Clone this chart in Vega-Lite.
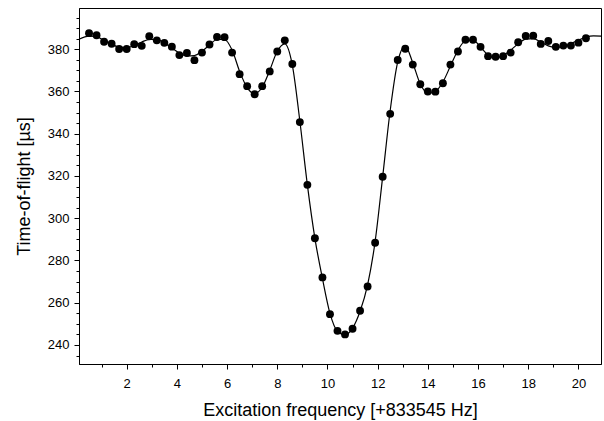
{
  "$schema": "https://vega.github.io/schema/vega-lite/v6.json",
  "width": 522,
  "height": 356,
  "autosize": {"type": "none"},
  "padding": {"left": 79, "top": 8, "right": 3, "bottom": 57},
  "background": "white",
  "config": {
    "view": {"stroke": "#000", "strokeWidth": 1},
    "font": "Liberation Sans",
    "axis": {
      "grid": false,
      "domainColor": "#000",
      "tickColor": "#000",
      "labelColor": "#000",
      "titleColor": "#000",
      "labelFont": "Liberation Sans",
      "titleFont": "Liberation Sans",
      "labelFontSize": 13,
      "titleFontSize": 18,
      "titleFontWeight": "normal",
      "tickWidth": 1,
      "domainWidth": 1
    }
  },
  "datasets": {
    "points": [
      {"x": 0.5, "y": 387.6}, {"x": 0.8, "y": 386.6}, {"x": 1.1, "y": 383.5}, {"x": 1.4, "y": 382.6},
      {"x": 1.7, "y": 380.1}, {"x": 2.0, "y": 380.1}, {"x": 2.3, "y": 382.4}, {"x": 2.6, "y": 381.6},
      {"x": 2.9, "y": 386.1}, {"x": 3.2, "y": 384.2}, {"x": 3.5, "y": 383.0}, {"x": 3.8, "y": 381.2},
      {"x": 4.1, "y": 377.2}, {"x": 4.4, "y": 378.2}, {"x": 4.7, "y": 374.8}, {"x": 5.0, "y": 378.4},
      {"x": 5.3, "y": 382.2}, {"x": 5.6, "y": 385.8}, {"x": 5.9, "y": 385.7}, {"x": 6.2, "y": 378.4},
      {"x": 6.5, "y": 368.2}, {"x": 6.8, "y": 362.5}, {"x": 7.1, "y": 358.7}, {"x": 7.4, "y": 362.5},
      {"x": 7.7, "y": 369.5}, {"x": 8.0, "y": 378.9}, {"x": 8.3, "y": 384.2}, {"x": 8.6, "y": 373.0},
      {"x": 8.9, "y": 345.5}, {"x": 9.2, "y": 315.8}, {"x": 9.5, "y": 290.5}, {"x": 9.8, "y": 272.0},
      {"x": 10.1, "y": 254.6}, {"x": 10.4, "y": 246.7}, {"x": 10.7, "y": 245.0}, {"x": 11.0, "y": 247.7},
      {"x": 11.3, "y": 256.2}, {"x": 11.6, "y": 267.7}, {"x": 11.9, "y": 288.4}, {"x": 12.2, "y": 319.6},
      {"x": 12.5, "y": 349.4}, {"x": 12.8, "y": 374.9}, {"x": 13.1, "y": 380.2}, {"x": 13.4, "y": 372.7},
      {"x": 13.7, "y": 363.4}, {"x": 14.0, "y": 360.0}, {"x": 14.3, "y": 359.9}, {"x": 14.6, "y": 363.9},
      {"x": 14.9, "y": 372.7}, {"x": 15.2, "y": 378.9}, {"x": 15.5, "y": 384.5}, {"x": 15.8, "y": 384.5},
      {"x": 16.1, "y": 381.1}, {"x": 16.4, "y": 376.7}, {"x": 16.7, "y": 376.4}, {"x": 17.0, "y": 376.7},
      {"x": 17.3, "y": 378.4}, {"x": 17.6, "y": 383.3}, {"x": 17.9, "y": 386.3}, {"x": 18.2, "y": 386.4},
      {"x": 18.5, "y": 382.5}, {"x": 18.8, "y": 383.9}, {"x": 19.1, "y": 381.1}, {"x": 19.4, "y": 381.7},
      {"x": 19.7, "y": 381.7}, {"x": 20.0, "y": 383.1}, {"x": 20.3, "y": 385.2}
    ],
    "fit": [
      {"x": 0.1, "y": 384.7}, {"x": 0.5, "y": 386.2}, {"x": 0.8, "y": 386.0}, {"x": 1.1, "y": 384.0}, {"x": 1.4, "y": 382.3},
      {"x": 1.7, "y": 381.0}, {"x": 2.0, "y": 380.8}, {"x": 2.3, "y": 381.8}, {"x": 2.6, "y": 383.4},
      {"x": 2.9, "y": 384.6}, {"x": 3.2, "y": 384.6}, {"x": 3.5, "y": 383.0}, {"x": 3.8, "y": 380.6},
      {"x": 4.1, "y": 378.2}, {"x": 4.4, "y": 376.8}, {"x": 4.7, "y": 377.0}, {"x": 5.0, "y": 379.0},
      {"x": 5.3, "y": 382.0}, {"x": 5.6, "y": 384.6}, {"x": 5.9, "y": 384.6}, {"x": 6.2, "y": 379.6},
      {"x": 6.5, "y": 369.5}, {"x": 6.8, "y": 361.8}, {"x": 7.1, "y": 359.0}, {"x": 7.4, "y": 362.0},
      {"x": 7.7, "y": 370.0}, {"x": 8.0, "y": 379.0}, {"x": 8.3, "y": 382.5}, {"x": 8.6, "y": 372.5},
      {"x": 8.9, "y": 346.0}, {"x": 9.2, "y": 315.8}, {"x": 9.5, "y": 290.5}, {"x": 9.8, "y": 271.5},
      {"x": 10.1, "y": 255.0}, {"x": 10.4, "y": 246.5}, {"x": 10.7, "y": 244.8}, {"x": 11.0, "y": 248.0},
      {"x": 11.3, "y": 256.0}, {"x": 11.6, "y": 268.5}, {"x": 11.9, "y": 289.0}, {"x": 12.2, "y": 319.6},
      {"x": 12.5, "y": 351.0}, {"x": 12.8, "y": 374.0}, {"x": 13.1, "y": 381.5}, {"x": 13.4, "y": 373.5},
      {"x": 13.7, "y": 363.5}, {"x": 14.0, "y": 359.2}, {"x": 14.3, "y": 360.0}, {"x": 14.6, "y": 364.5},
      {"x": 14.9, "y": 372.0}, {"x": 15.2, "y": 379.5}, {"x": 15.5, "y": 384.0}, {"x": 15.8, "y": 384.3},
      {"x": 16.1, "y": 381.0}, {"x": 16.4, "y": 377.2}, {"x": 16.7, "y": 375.8}, {"x": 17.0, "y": 377.0},
      {"x": 17.3, "y": 379.5}, {"x": 17.6, "y": 382.6}, {"x": 17.9, "y": 384.8}, {"x": 18.2, "y": 385.0},
      {"x": 18.5, "y": 383.4}, {"x": 18.8, "y": 381.6}, {"x": 19.1, "y": 380.8}, {"x": 19.4, "y": 381.3},
      {"x": 19.7, "y": 382.6}, {"x": 20.0, "y": 384.3}, {"x": 20.3, "y": 385.7}, {"x": 20.6, "y": 386.3}, {"x": 20.9, "y": 386.2}
    ]
  },
  "layer": [
    {
      "data": {"name": "fit"},
      "mark": {"type": "line", "interpolate": "monotone", "color": "#000", "strokeWidth": 1.2},
      "encoding": {
        "x": {
          "field": "x", "type": "quantitative",
          "scale": {"domain": [0.1, 20.9], "nice": false, "zero": false},
          "axis": {
            "orient": "bottom",
            "values": [2, 4, 6, 8, 10, 12, 14, 16, 18, 20],
            "tickSize": 5, "labelPadding": 8,
            "title": "Excitation frequency [+833545 Hz]", "titlePadding": 11
          }
        },
        "y": {
          "field": "y", "type": "quantitative",
          "scale": {"domain": [231, 399.5], "nice": false, "zero": false},
          "axis": {
            "orient": "left",
            "values": [240, 260, 280, 300, 320, 340, 360, 380],
            "tickSize": 5, "labelPadding": 5,
            "title": "Time-of-flight [µs]", "titlePadding": 14
          }
        }
      }
    },
    {
      "data": {"name": "points"},
      "mark": {"type": "point", "filled": true, "size": 62, "color": "#000", "opacity": 1},
      "encoding": {
        "x": {
          "field": "x", "type": "quantitative",
          "scale": {"domain": [0.1, 20.9], "nice": false, "zero": false},
          "axis": {
            "orient": "bottom",
            "values": [1, 3, 5, 7, 9, 11, 13, 15, 17, 19],
            "tickSize": 3, "labels": false, "title": null, "domain": false
          }
        },
        "y": {
          "field": "y", "type": "quantitative",
          "scale": {"domain": [231, 399.5], "nice": false, "zero": false},
          "axis": {
            "orient": "left",
            "values": [235, 245, 250, 255, 265, 270, 275, 285, 290, 295, 305, 310, 315, 325, 330, 335, 345, 350, 355, 365, 370, 375, 385, 390, 395],
            "tickSize": 3, "labels": false, "title": null, "domain": false
          }
        }
      }
    }
  ],
  "resolve": {"axis": {"x": "independent", "y": "independent"}}
}
